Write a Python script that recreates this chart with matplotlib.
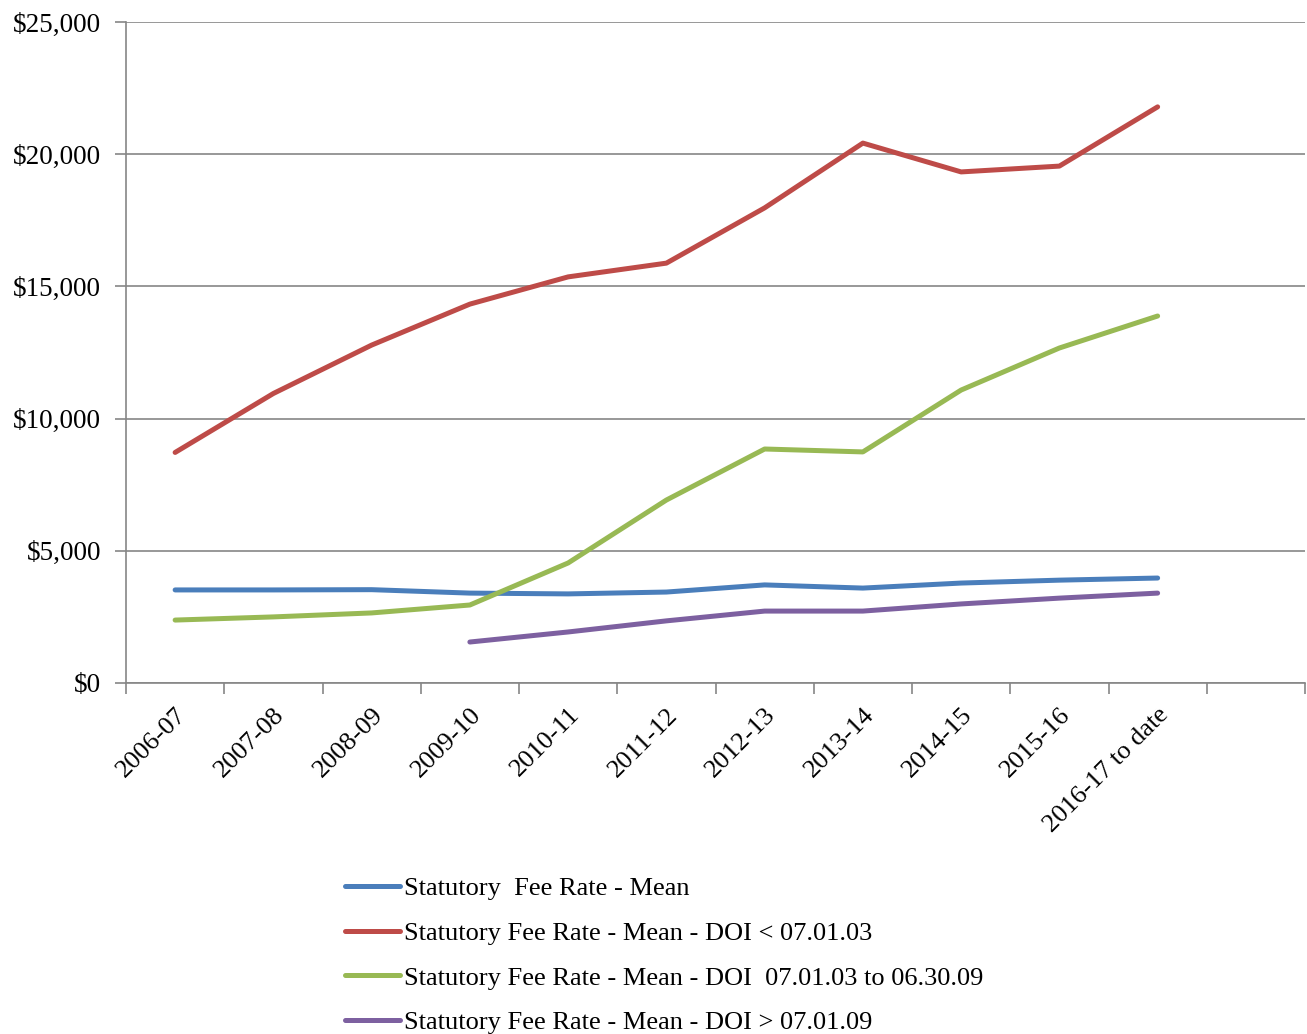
import matplotlib
matplotlib.use("Agg")
import matplotlib.pyplot as plt
from matplotlib.ticker import FuncFormatter, FixedLocator
import numpy as np

# -------- data --------
years = ["2006-07", "2007-08", "2008-09", "2009-10", "2010-11", "2011-12",
         "2012-13", "2013-14", "2014-15", "2015-16", "2016-17 to date"]

mean_all = [3520, 3520, 3530, 3400, 3370, 3440, 3710, 3590, 3780, 3890, 3970]
mean_pre03 = [8720, 10950, 12780, 14330, 15360, 15880, 17970, 20420, 19330, 19550, 21790]
mean_03_09 = [2380, 2500, 2650, 2950, 4540, 6920, 8850, 8740, 11080, 12670, 13880]
mean_post09 = [None, None, None, 1550, 1930, 2350, 2720, 2720, 2990, 3210, 3400]

labels = ["Statutory  Fee Rate - Mean",
          "Statutory Fee Rate - Mean - DOI < 07.01.03",
          "Statutory Fee Rate - Mean - DOI  07.01.03 to 06.30.09",
          "Statutory Fee Rate - Mean - DOI > 07.01.09"]
colors = ["#4A7EBB", "#BE4B48", "#98B954", "#7D60A0"]
# ---------------------------------------------

plt.rcParams["font.family"] = ["Liberation Serif", "DejaVu Serif"]
GRAY = "#868686"

fig = plt.figure(figsize=(13.07, 10.34), dpi=100)
ax = fig.add_axes([126 / 1307, 1 - 683 / 1034, (1305 - 126) / 1307, (683 - 22) / 1034])

x = np.arange(len(years))
for series, lab, c in zip([mean_all, mean_pre03, mean_03_09, mean_post09], labels, colors):
    ys = np.array([np.nan if v is None else v for v in series], dtype=float)
    ax.plot(x, ys, color=c, lw=3.6, label=lab, solid_capstyle="round", solid_joinstyle="round")

ax.set_xlim(-0.5, len(years) + 0.5)
ax.set_ylim(0, 25000)
ax.set_yticks(np.arange(0, 25001, 5000))
ax.yaxis.set_major_formatter(FuncFormatter(lambda v, p: f"${v:,.0f}"))
ax.grid(axis="y", color=GRAY, lw=1.2)
ax.set_axisbelow(True)

# category ticks sit between categories, labels at the centres
ax.xaxis.set_major_locator(FixedLocator(np.arange(-0.5, len(years) + 1, 1.0)))
ax.set_xticklabels([])
ax.set_xticks(x, minor=True)
ax.set_xticklabels(years, minor=True, rotation=45, ha="right", va="top",
                   rotation_mode="anchor", fontsize=19)
ax.tick_params(axis="x", which="minor", length=0, pad=15)
ax.tick_params(axis="x", which="major", length=8, width=1.2, color=GRAY)
ax.tick_params(axis="y", length=8, width=1.2, color=GRAY, labelsize=19.5, pad=10)

for s in ["top", "right"]:
    ax.spines[s].set_visible(False)
for s in ["left", "bottom"]:
    ax.spines[s].set_color(GRAY)
    ax.spines[s].set_linewidth(1.2)

fig.legend(loc="upper left", bbox_to_anchor=(345 / 1307, 1 - 877 / 1034),
           frameon=False, fontsize=19, handlelength=2.1, handletextpad=0.15,
           labelspacing=0.8, borderpad=0, borderaxespad=0)

fig.savefig("out.png", dpi=100)
